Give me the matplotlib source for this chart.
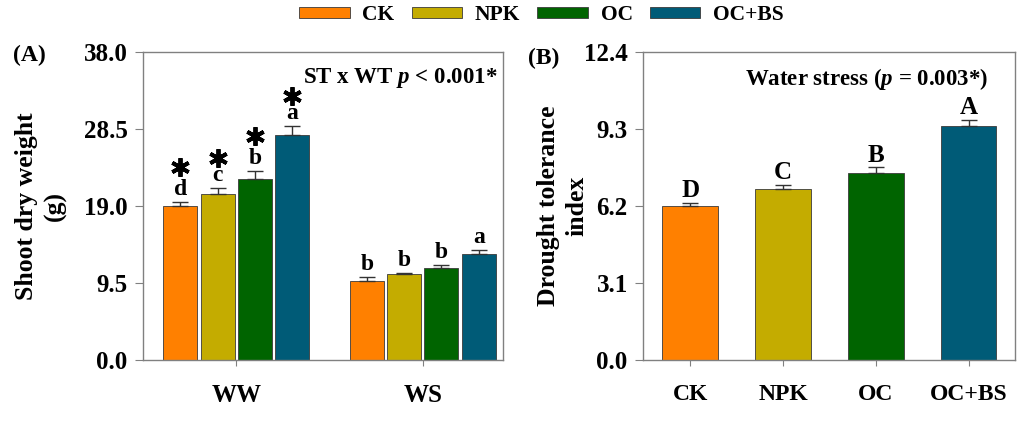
import matplotlib.pyplot as plt
import numpy as np

plt.rcParams['font.family'] = ['Liberation Serif', 'DejaVu Serif']
plt.rcParams['font.weight'] = 'bold'
plt.rcParams['mathtext.fontset'] = 'custom'
plt.rcParams['mathtext.it'] = 'Liberation Serif:italic:bold'
plt.rcParams['mathtext.rm'] = 'Liberation Serif:bold'

treatments = ["CK", "NPK", "OC", "OC+BS"]
colors = ["#FF8000", "#C4AC00", "#006400", "#005B77"]
water = ["WW", "WS"]

# shoot dry weight (g), rows = treatment, cols = WW, WS
sdw = np.array([[19.0, 9.75], [20.45, 10.6], [22.35, 11.35], [27.75, 13.1]])
sdw_err = np.array([[0.55, 0.45], [0.8, 0.13], [0.95, 0.33], [1.15, 0.45]])
sdw_letters = [["d", "b"], ["c", "b"], ["b", "b"], ["a", "a"]]
sdw_star = [[True, False]] * 4

dti = [6.21, 6.88, 7.52, 9.42]
dti_err = [0.11, 0.16, 0.24, 0.24]
dti_letters = ["D", "C", "B", "A"]

fig = plt.figure(figsize=(10.24, 4.23), dpi=100)
axA = fig.add_axes([143/1024, 1-360/423, 360/1024, 308/423])
axB = fig.add_axes([643/1024, 1-360/423, 372/1024, 308/423])

spine_c = "#808080"
err_kw = dict(ecolor="#333333", elinewidth=1.0, capsize=5.5, capthick=1.0)

# ---- panel A
x = np.arange(len(water))
w = 0.182
for i, t in enumerate(treatments):
    xs = x + (i - 1.5) * 0.2
    axA.bar(xs, sdw[i], w, color=colors[i], edgecolor="#3a3a3a", linewidth=0.6,
            yerr=[np.zeros(2), sdw_err[i]], error_kw=err_kw, label=t)
    for j in range(2):
        top = sdw[i, j] + sdw_err[i, j]
        lt = sdw_letters[i][j]
        axA.text(xs[j], top + 0.25, lt, ha="center", va="bottom",
                 fontsize=17, fontweight="bold")
        if sdw_star[i][j]:
            off = 4.3 if lt in "bd" else 3.7
            axA.plot(xs[j], top + off, marker=(6, 2, 0), ms=13.5, mew=2.8,
                     color="black", linestyle="none")
axA.set_xlim(-0.5, 1.43)
axA.set_ylim(0, 38)
axA.set_yticks([0, 9.5, 19, 28.5, 38])
axA.set_yticklabels(["0.0", "9.5", "19.0", "28.5", "38.0"])
axA.set_xticks(x)
axA.set_xticklabels(water)
axA.set_ylabel("Shoot dry weight\n(g)", fontsize=18.5, fontweight="bold",
               labelpad=12, linespacing=1.3)
axA.text(0.985, 0.955, r"ST x WT $p$ < 0.001*", transform=axA.transAxes,
         ha="right", va="top", fontsize=16.5, fontweight="bold")
fig.text(13/1024, 1-55/423, "(A)", fontsize=17, fontweight="bold", va="center")

# ---- panel B
xb = np.arange(len(treatments))
axB.bar(xb, dti, 0.6, color=colors, edgecolor="#3a3a3a", linewidth=0.6,
        yerr=[np.zeros(4), dti_err], error_kw=err_kw)
for i in range(4):
    axB.text(xb[i], dti[i] + dti_err[i] + 0.03, dti_letters[i], ha="center", va="bottom",
             fontsize=18, fontweight="bold")
axB.set_xlim(-0.51, 3.5)
axB.set_ylim(0, 12.4)
axB.set_yticks([0, 3.1, 6.2, 9.3, 12.4])
axB.set_yticklabels(["0.0", "3.1", "6.2", "9.3", "12.4"])
axB.set_xticks(xb)
axB.set_xticklabels(treatments)
axB.set_ylabel("Drought tolerance\nindex", fontsize=18.5, fontweight="bold",
               labelpad=-3, linespacing=1.3)
axB.text(0.927, 0.955, r"Water stress ($p$ = 0.003*)", transform=axB.transAxes,
         ha="right", va="top", fontsize=16.5, fontweight="bold")
fig.text(528/1024, 1-58/423, "(B)", fontsize=17, fontweight="bold", va="center")

for ax in (axA, axB):
    for s in ax.spines.values():
        s.set_color(spine_c)
        s.set_linewidth(1.0)
    ax.tick_params(axis="y", direction="out", length=6, color=spine_c, labelsize=18, pad=5)
    ax.tick_params(axis="x", direction="out", length=4, color=spine_c, labelsize=17, pad=13)
    for lab in ax.get_xticklabels() + ax.get_yticklabels():
        lab.set_fontweight("bold")
axA.tick_params(axis="x", labelsize=18)

fig.legend(*axA.get_legend_handles_labels(), loc="center",
           bbox_to_anchor=(541.5/1024, 1-15/423),
           ncol=4, frameon=False, handlelength=2.33, handleheight=0.38,
           columnspacing=0.8, handletextpad=0.6, prop={"weight": "bold", "size": 15.5})

fig.savefig("out.png", dpi=100)
